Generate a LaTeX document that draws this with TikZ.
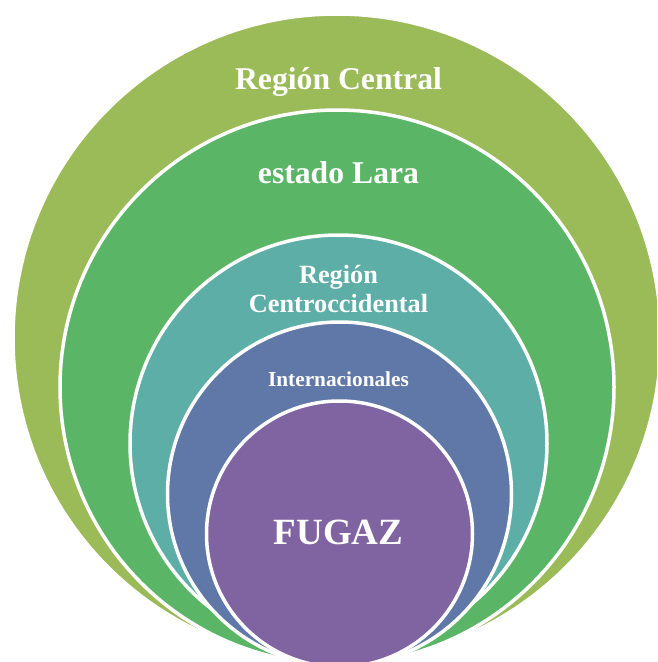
\documentclass[tikz,border=0pt]{standalone}
\usepackage{fontspec}
\setmainfont{Liberation Serif}
\definecolor{cOlive}{HTML}{9BBB59}
\definecolor{cGreen}{HTML}{5BB566}
\definecolor{cTeal}{HTML}{5DAEA6}
\definecolor{cBlue}{HTML}{6078A8}
\definecolor{cPurple}{HTML}{8064A2}
\tikzset{
  ring/.style={circle, draw=white, line width=3.5pt, inner sep=0pt, outer sep=0pt},
  lbl/.style={text=white, font=\bfseries, anchor=base, inner sep=0pt, align=center}
}
\begin{document}
\begin{tikzpicture}[x=1pt,y=-1pt]
\useasboundingbox (0,0) rectangle (657,662);
\clip (0,0) rectangle (657,662);
\node[ring, fill=cOlive, minimum size=648pt] (c1) at (337,338) {};
\node[ring, fill=cGreen, minimum size=554pt] (c2) at (337,387) {};
\node[ring, fill=cTeal, minimum size=417pt] (c3) at (338.5,443.5) {};
\node[ring, fill=cBlue, minimum size=344pt] (c4) at (339.5,494) {};
\node[ring, fill=cPurple, minimum size=266pt] (c5) at (339.5,534) {};
\node[lbl, font=\bfseries\fontsize{31.7}{34}\selectfont] (t1) at (338.5,89) {Región Central};
\node[lbl, font=\bfseries\fontsize{31.7}{34}\selectfont] (t2) at (338.5,183) {estado Lara};
\node[lbl, font=\bfseries\fontsize{26.3}{29}\selectfont] (t3a) at (338.5,283) {Región};
\node[lbl, font=\bfseries\fontsize{26.3}{29}\selectfont] (t3b) at (338.5,312) {Centroccidental};
\node[lbl, font=\bfseries\fontsize{21.3}{24}\selectfont] (t4) at (338.5,386) {Internacionales};
\node[lbl, font=\bfseries\fontsize{37}{40}\selectfont] (t5) at (338.5,544) {FUGAZ};
\end{tikzpicture}
\end{document}
